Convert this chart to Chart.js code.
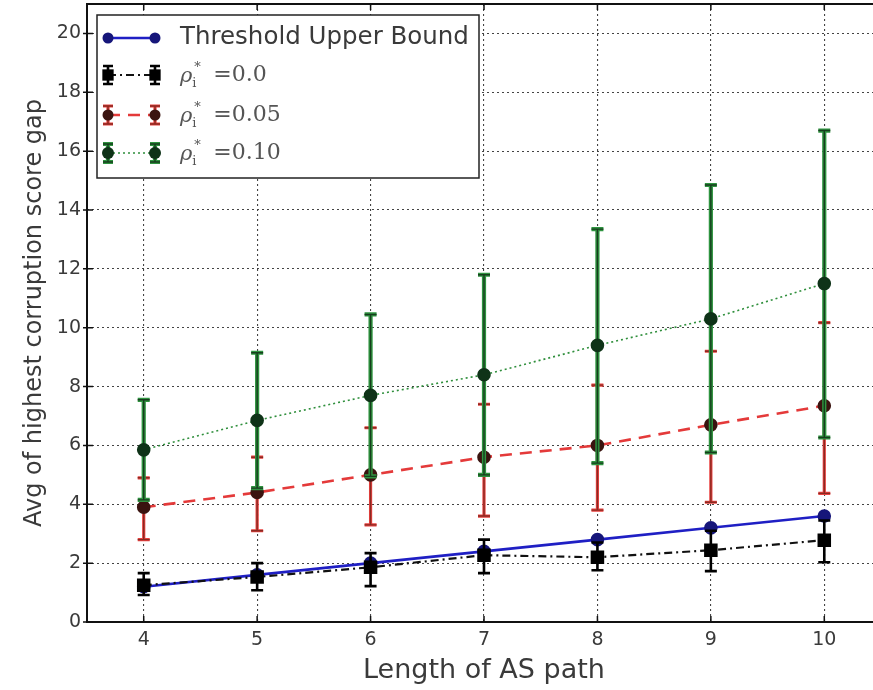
<!DOCTYPE html>
<html><head><meta charset="utf-8">
<script src="https://cdn.jsdelivr.net/npm/chart.js@4/dist/chart.umd.min.js"></script>
<style>
html,body{margin:0;padding:0;background:#fff;overflow:hidden;width:873px;height:690px}
#wrap{width:883px;height:690px}
</style></head>
<body><div id="wrap"><canvas id="c" width="883" height="690"></canvas></div>
<script>
// ---- data ----
const pathLengths = [4, 5, 6, 7, 8, 9, 10];
const xTickValues = [4, 5, 6, 7, 8, 9, 10];
const xTickLabels = ['4', '5', '6', '7', '8', '9', '10'];
const yTickValues = [0, 2, 4, 6, 8, 10, 12, 14, 16, 18, 20];

const upperBound = [1.2, 1.6, 2.0, 2.4, 2.8, 3.2, 3.6];

const rho0Mean = [1.25, 1.53, 1.86, 2.27, 2.2, 2.44, 2.78];
const rho0Low  = [0.92, 1.08, 1.22, 1.66, 1.76, 1.73, 2.03];
const rho0High = [1.66, 2.0, 2.34, 2.8, 2.7, 3.1, 3.45];

const rho05Mean = [3.9, 4.4, 5.0, 5.6, 6.0, 6.7, 7.35];
const rho05Low  = [2.8, 3.1, 3.3, 3.6, 3.8, 4.07, 4.37];
const rho05High = [4.9, 5.6, 6.6, 7.4, 8.05, 9.2, 10.17];

const rho10Mean = [5.85, 6.85, 7.7, 8.4, 9.4, 10.3, 11.5];
const rho10Low  = [4.15, 4.55, 4.95, 5.0, 5.4, 5.76, 6.27];
const rho10High = [7.55, 9.15, 10.45, 11.8, 13.35, 14.85, 16.7];

const seriesNames = ['Threshold Upper Bound', 'ρ', 'ρ', 'ρ'];
const rhoValues = ['', '0.0', '0.05', '0.10'];
const xTitle = 'Length of AS path';
const yTitle = 'Avg of highest corruption score gap';

const pts = arr => pathLengths.map((x, i) => ({x: x, y: arr[i]}));

const datasets = [
  {label: seriesNames[0], data: pts(upperBound), borderColor: '#1f1fc4', borderWidth: 2.6,
   pointBackgroundColor: '#16167a', pointBorderColor: '#16167a', pointRadius: 5.5, pointStyle: 'circle', order: 4},
  {label: seriesNames[1] + rhoValues[1], data: pts(rho0Mean), borderColor: '#111', borderWidth: 2.2, borderDash: [8, 4, 2, 4],
   pointBackgroundColor: '#000', pointBorderColor: '#000', pointRadius: 8, pointStyle: 'rect', order: 3,
   errLow: rho0Low, errHigh: rho0High, errColor: '#000', errInner: null, errWidth: 2.6},
  {label: seriesNames[2] + rhoValues[2], data: pts(rho05Mean), borderColor: '#e43a3a', borderWidth: 2.6, borderDash: [12, 8],
   pointBackgroundColor: '#3a1410', pointBorderColor: '#3a1410', pointRadius: 5.5, pointStyle: 'circle', order: 2,
   errLow: rho05Low, errHigh: rho05High, errColor: '#e8413f', errInner: '#8a2a22', errWidth: 3.2},
  {label: seriesNames[3] + rhoValues[3], data: pts(rho10Mean), borderColor: '#2f8f3c', borderWidth: 1.6, borderDash: [2, 3],
   pointBackgroundColor: '#0f3318', pointBorderColor: '#0f3318', pointRadius: 6, pointStyle: 'circle', order: 1,
   errLow: rho10Low, errHigh: rho10High, errColor: '#2f9440', errInner: '#173d1d', errWidth: 4.2}
];

function drawBar(ctx, px, y1, y2, ds, cap) {
  const passes = [[ds.errColor, ds.errWidth]];
  if (ds.errInner) passes.push([ds.errInner, 1.4]);
  passes.forEach(([col, w]) => {
    ctx.strokeStyle = col; ctx.lineWidth = w; ctx.setLineDash([]);
    ctx.beginPath();
    ctx.moveTo(px, y1); ctx.lineTo(px, y2);
    ctx.moveTo(px - cap, y1); ctx.lineTo(px + cap, y1);
    ctx.moveTo(px - cap, y2); ctx.lineTo(px + cap, y2);
    ctx.stroke();
  });
}

const errorBarPlugin = {
  id: 'errorBars',
  beforeDatasetDraw(chart, args) {
    const ds = chart.data.datasets[args.index];
    if (!ds.errLow) return;
    const ctx = chart.ctx, xs = chart.scales.x, ys = chart.scales.y;
    ctx.save();
    ds.data.forEach((p, i) => {
      const px = xs.getPixelForValue(p.x);
      drawBar(ctx, px, ys.getPixelForValue(ds.errLow[i]), ys.getPixelForValue(ds.errHigh[i]), ds, 6);
    });
    ctx.restore();
  }
};

const framePlugin = {
  id: 'frame',
  afterDraw(chart) {
    const ctx = chart.ctx, a = chart.chartArea, xs = chart.scales.x, ys = chart.scales.y;
    ctx.save();
    ctx.strokeStyle = '#111'; ctx.lineWidth = 2; ctx.setLineDash([]);
    ctx.strokeRect(a.left, a.top, a.right - a.left, a.bottom - a.top);
    ctx.lineWidth = 1.5;
    ctx.beginPath();
    xTickValues.forEach(v => {
      const px = xs.getPixelForValue(v);
      ctx.moveTo(px, a.bottom); ctx.lineTo(px, a.bottom - 6);
      ctx.moveTo(px, a.top); ctx.lineTo(px, a.top + 6);
    });
    yTickValues.forEach(v => {
      const py = ys.getPixelForValue(v);
      ctx.moveTo(a.left, py); ctx.lineTo(a.left + 6, py);
      ctx.moveTo(a.left - 4, py); ctx.lineTo(a.left, py);
      ctx.moveTo(a.right, py); ctx.lineTo(a.right - 6, py);
    });
    ctx.stroke();

    // legend
    const bx = 97, by = 15, bw = 382, bh = 163;
    ctx.fillStyle = '#fff';
    ctx.fillRect(bx, by, bw, bh);
    ctx.strokeStyle = '#222'; ctx.lineWidth = 1.5;
    ctx.strokeRect(bx, by, bw, bh);
    const rowsY = [38, 75, 115, 153];
    const x1 = 108, x2 = 155, tx = 180;
    chart.data.datasets.forEach((ds, i) => {
      const y = rowsY[i];
      if (ds.errLow) { drawBar(ctx, x1, y - 9, y + 9, ds, 5); drawBar(ctx, x2, y - 9, y + 9, ds, 5); }
      ctx.strokeStyle = ds.borderColor; ctx.lineWidth = ds.borderWidth;
      ctx.setLineDash(ds.borderDash || []);
      ctx.beginPath(); ctx.moveTo(x1, y); ctx.lineTo(x2, y); ctx.stroke();
      ctx.setLineDash([]);
      [x1, x2].forEach(px => {
        ctx.fillStyle = ds.pointBackgroundColor;
        ctx.beginPath();
        if (ds.pointStyle === 'rect') { const s = ds.pointRadius * Math.SQRT1_2; ctx.rect(px - s, y - s, 2 * s, 2 * s); }
        else ctx.arc(px, y, ds.pointRadius, 0, Math.PI * 2);
        ctx.fill();
      });
      ctx.fillStyle = '#3a3a3a';
      ctx.textBaseline = 'middle'; ctx.textAlign = 'left';
      if (i === 0) {
        ctx.font = '24.5px "DejaVu Sans"';
        ctx.fillText(seriesNames[i], tx, y);
      } else {
        let cx = tx;
        ctx.fillStyle = '#555';
        ctx.font = 'italic 21px "DejaVu Serif"';
        ctx.fillText(seriesNames[i], cx, y + 2); cx += ctx.measureText(seriesNames[i]).width;
        ctx.font = '13px "DejaVu Serif"';
        ctx.fillText('i', cx, y + 9);
        ctx.fillText('*', cx + 2, y - 7);
        cx += 14;
        ctx.font = '22px "DejaVu Serif"';
        ctx.fillText(' =' + rhoValues[i], cx, y);
      }
    });
    ctx.restore();
  }
};

new Chart(document.getElementById('c'), {
  type: 'line',
  data: {datasets: datasets},
  plugins: [errorBarPlugin, framePlugin],
  options: {
    responsive: false,
    animation: false,
    devicePixelRatio: 1,
    layout: {autoPadding: false, padding: {top: 4, right: 2, left: 0, bottom: 0}},
    plugins: {legend: {display: false}, tooltip: {enabled: false}},
    elements: {line: {tension: 0, fill: false}},
    scales: {
      x: {
        type: 'linear', min: 3.5, max: 10.5,
        afterBuildTicks: s => { s.ticks = xTickValues.map(v => ({value: v})); },
        afterFit: s => { s.height = 68; s.paddingLeft = 0; s.paddingRight = 0; },
        ticks: {callback: (v) => xTickLabels[xTickValues.indexOf(v)], color: '#3a3a3a',
                font: {family: 'DejaVu Sans', size: 19}, padding: 7, maxRotation: 0, autoSkip: false},
        grid: {color: '#444', lineWidth: 1.1, drawTicks: false},
        border: {display: false, dash: [2, 3]},
        title: {display: true, text: xTitle, color: '#3a3a3a', font: {family: 'DejaVu Sans', size: 27}, padding: {top: 0, bottom: 3}}
      },
      y: {
        type: 'linear', min: 0, max: 21,
        afterBuildTicks: s => { s.ticks = yTickValues.map(v => ({value: v})); },
        afterFit: s => { s.width = 87; s.paddingTop = 0; s.paddingBottom = 0; },
        ticks: {color: '#3a3a3a', font: {family: 'DejaVu Sans', size: 19}, padding: 6},
        grid: {color: '#444', lineWidth: 1.1, drawTicks: false},
        border: {display: false, dash: [2, 3]},
        title: {display: true, text: yTitle, color: '#3a3a3a', font: {family: 'DejaVu Sans', size: 24}, padding: {top: 20, bottom: 0}}
      }
    }
  }
});
</script>
</body></html>
